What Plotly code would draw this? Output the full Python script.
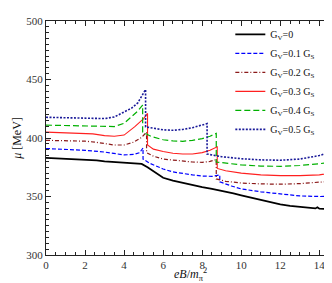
import plotly.graph_objects as go

# G_V = 0
x0 = [0, 1, 2, 2.6, 3, 3.5, 4, 4.5, 4.9, 5.2, 5.5, 6, 6.5, 7, 7.5, 8, 8.5, 9, 9.6, 10, 10.5, 11, 11.6, 12, 12.5, 13, 13.4, 13.8, 13.9, 14, 14.5, 14.75]
y0 = [383, 382.3, 381.3, 380.8, 380, 379.4, 378.8, 378.3, 377.8, 375, 371.5, 366, 363.5, 361.5, 359.8, 358, 356.5, 355, 352.7, 351, 349, 346.8, 344.5, 343.2, 342, 341, 340.2, 339.8, 340.8, 339.6, 339.4, 339.3]

# G_V = 0.1 G_S
x1 = [0, 1, 2, 3, 3.5, 4, 4.5, 4.8, 4.97, 4.97, 5.3, 6, 6.5, 7, 7.5, 8, 8.5, 8.9, 8.9, 9.5, 10, 11, 12, 13, 14, 14.75]
y1 = [391, 390.5, 389.5, 388, 386.5, 385.5, 386, 387.5, 391.5, 382, 378.5, 373.5, 371, 369.5, 368.5, 367.5, 367.2, 368.4, 362.5, 359, 356.5, 354, 352, 350.5, 350, 350.2]

# G_V = 0.2 G_S
x2 = [0, 1, 2, 2.5, 3, 3.5, 4, 4.5, 4.9, 5.15, 5.15, 5.5, 6, 6.5, 7, 7.5, 8, 8.4, 8.72, 8.72, 9.2, 10, 11, 12, 13, 14, 14.75]
y2 = [398, 397.8, 397.3, 396.5, 395, 394, 394, 396.5, 400.5, 405, 387.5, 384.5, 382, 381, 380, 379.5, 379.2, 380, 381.5, 365, 363, 361.5, 360.8, 360.5, 361, 362, 363.2]

# G_V = 0.3 G_S
x3 = [0, 1, 2, 2.4, 3, 3.5, 4, 4.55, 5.0, 5.2, 5.2, 5.5, 6, 6.5, 7, 7.5, 8, 8.4, 8.77, 8.77, 9.2, 10, 11, 12, 13, 14, 14.75]
y3 = [405, 404.5, 404, 403.5, 402, 401.5, 402.5, 409.7, 416.5, 421, 394, 390.5, 388.4, 387, 386.3, 386.3, 387.5, 389.5, 392.5, 374, 372, 370, 368.5, 367.8, 367.8, 368.5, 370.4]

# G_V = 0.4 G_S
x4 = [0, 1, 2, 3, 3.5, 4, 4.37, 4.7, 4.95, 4.95, 5.4, 6, 6.5, 7, 7.5, 8, 8.4, 8.72, 8.72, 9.2, 10, 11, 12, 13, 14, 14.75]
y4 = [411, 410.7, 410.2, 409.6, 409.8, 412.6, 418.3, 423, 428.2, 405, 401.2, 398.5, 397.5, 397.2, 398, 399.5, 401.5, 404, 379.5, 378.5, 377, 376, 375.8, 376.5, 378, 379.8]

# G_V = 0.5 G_S
x5 = [0, 1, 2, 3, 3.5, 4, 4.37, 4.7, 4.9, 5.1, 5.1, 5.4, 6.0, 6.5, 7.0, 7.5, 8.0, 8.25, 8.25, 9, 10, 11, 12, 13, 14, 14.75]
y5 = [417.7, 417.3, 416.8, 416.6, 418, 422, 425.4, 430, 436, 441.5, 409.5, 408.6, 407, 406.6, 407.3, 408.8, 410.8, 412.3, 386.3, 384, 382.3, 381.3, 381, 382, 385, 389]

names = ["G<sub>V</sub>=0", "G<sub>V</sub>=0.1 G<sub>S</sub>", "G<sub>V</sub>=0.2 G<sub>S</sub>",
         "G<sub>V</sub>=0.3 G<sub>S</sub>", "G<sub>V</sub>=0.4 G<sub>S</sub>", "G<sub>V</sub>=0.5 G<sub>S</sub>"]

xtick_vals = [0, 2, 4, 6, 8, 10, 12, 14]
ytick_vals = [300, 350, 400, 450, 500]

x_title = "<i>eB</i>/<i>m</i><sub>π</sub><sup>2</sup>"
y_title = "<i>μ</i> [MeV]"

styles = [
    dict(color="black", width=1.8, dash="solid"),
    dict(color="#0000ff", width=1.2, dash="4px,2px"),
    dict(color="#8b1a1a", width=1.2, dash="4px,2px,1px,2px"),
    dict(color="#ff2020", width=1.1, dash="solid"),
    dict(color="#00b000", width=1.2, dash="6px,3px"),
    dict(color="#1a1a99", width=1.6, dash="2px,1.5px"),
]

xs = [x0, x1, x2, x3, x4, x5]
ys = [y0, y1, y2, y3, y4, y5]

fig = go.Figure()
for xx, yy, nm, st in zip(xs, ys, names, styles):
    fig.add_trace(go.Scatter(x=xx, y=yy, mode="lines", name=nm, line=st))

font_family = "Liberation Serif"
axis_common = dict(
    showline=True, linecolor="#222", linewidth=1, mirror="allticks",
    ticks="inside", ticklen=5, tickwidth=1, tickcolor="#222",
    showgrid=False, zeroline=False,
    tickfont=dict(family=font_family, size=11, color="#333"),
)

fig.update_xaxes(
    range=[0, 14.75], tickvals=xtick_vals,
    minor=dict(ticks="inside", ticklen=3, dtick=0.5, tickcolor="#222", showgrid=False),
    automargin=False,
    **axis_common,
)
fig.update_yaxes(
    range=[300, 500], tickvals=ytick_vals,
    minor=dict(ticks="inside", ticklen=3, dtick=5, tickcolor="#222", showgrid=False),
    title=dict(text=y_title, font=dict(family=font_family, size=12, color="#111"), standoff=2),
    automargin=False,
    **axis_common,
)

fig.add_annotation(
    text=x_title, xref="paper", yref="paper", x=0.5, y=-0.04,
    xanchor="center", yanchor="top", showarrow=False,
    font=dict(family=font_family, size=12, color="#111"),
)

fig.update_layout(
    width=332, height=283,
    margin=dict(l=38, r=6, t=13, b=36),
    plot_bgcolor="white", paper_bgcolor="white",
    font=dict(family=font_family, size=10, color="#111"),
    legend=dict(x=0.64, y=1.005, xanchor="left", yanchor="top",
                bgcolor="rgba(0,0,0,0)", borderwidth=0,
                font=dict(family=font_family, size=10, color="#111"),
                itemwidth=30),
    showlegend=True,
)

fig.write_html("out.html")
